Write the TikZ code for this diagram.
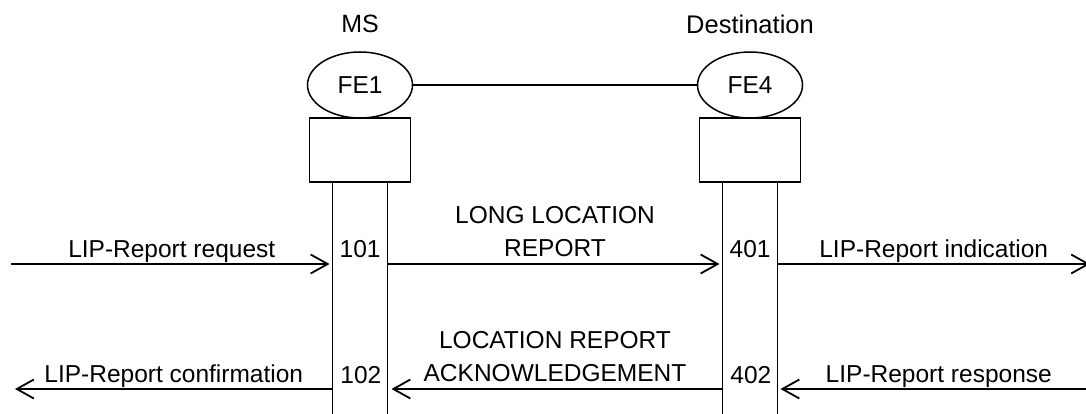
\documentclass[tikz,border=0pt]{standalone}
\usepackage{fontspec}
\setmainfont{Liberation Sans}
\usetikzlibrary{arrows.meta,shapes.geometric}
\begin{document}
\begin{tikzpicture}[x=1pt,y=-1pt,line width=1.8pt,
    font=\fontsize{24.5}{33}\selectfont,
    fe/.style={draw,ellipse,line width=1.5pt,minimum width=105pt,minimum height=66pt,inner sep=0pt},
    blk/.style={draw,rectangle,minimum width=101pt,minimum height=64pt},
    msg/.style={-{Straight Barb[length=17pt,width=19pt]}},
    lbl/.style={inner sep=0pt,anchor=base,yshift=6.5pt},
    num/.style={inner sep=0pt,pos=0}]
      \useasboundingbox (0,0) rectangle (1086,414);
      \node [fe] at (360,85) (fe1) {FE1};
      \node [fe,node distance=390pt,right of=fe1] (fe4) {FE4};
      \node [node distance=52pt,above of=fe1,anchor=base] (ms) {\fontsize{25}{30}\selectfont MS};
      \node [node distance=51pt,above of=fe4,anchor=base] (dst) {\fontsize{25.5}{30}\selectfont Destination};
      \node [blk,node distance=65pt,below of=fe1] (b1) {};
      \node [blk,node distance=65pt,below of=fe4] (b4) {};

      \draw (fe1) -- (fe4);

      % columns
      \coordinate (bot) at (0,420);
      \coordinate (c1l) at ([xshift=-27.5pt]b1.south);
      \coordinate (c1r) at ([xshift=27.5pt]b1.south);
      \coordinate (c4l) at ([xshift=-27.5pt]b4.south);
      \coordinate (c4r) at ([xshift=27.5pt]b4.south);
      \draw (c1l) -- (c1l |- bot);
      \draw (c1r) -- (c1r |- bot);
      \draw (c4l) -- (c4l |- bot);
      \draw (c4r) -- (c4r |- bot);

      % rows
      \coordinate (r1) at (0,264);
      \coordinate (r2) at (0,389);
      \coordinate (in1) at (11,264);
      \coordinate (out1) at (15,389);
      \coordinate (out4) at (1090,264);
      \coordinate (in4) at (1100,389);

      \draw[msg,shorten >=3pt] (in1) -- node[lbl] {LIP-Report request} (c1l |- r1);
      \draw[msg,shorten >=3pt] (c1r |- r1) -- node[lbl,align=center,anchor=south,yshift=-0.5pt] {LONG LOCATION\\REPORT}
        node[num,anchor=base east,xshift=-6pt,yshift=7pt] {101} (c4l |- r1);
      \draw[msg] (c4r |- r1) -- node[lbl] {LIP-Report indication}
        node[num,anchor=base east,xshift=-6pt,yshift=7pt] {401} (out4);

      \draw[msg] (c1l |- r2) -- node[lbl] {LIP-Report confirmation}
        node[num,anchor=base west,xshift=7pt,yshift=6pt] {102} (out1);
      \draw[msg,shorten >=4pt] (c4l |- r2) -- node[lbl,align=center,anchor=south,yshift=-0.5pt] {LOCATION REPORT\\ACKNOWLEDGEMENT}
        node[num,anchor=base west,xshift=7pt,yshift=6pt] {402} (c1r |- r2);
      \draw[msg,shorten >=3pt] (in4) -- node[lbl] {LIP-Report response} (c4r |- r2);
    \end{tikzpicture}
\end{document}
